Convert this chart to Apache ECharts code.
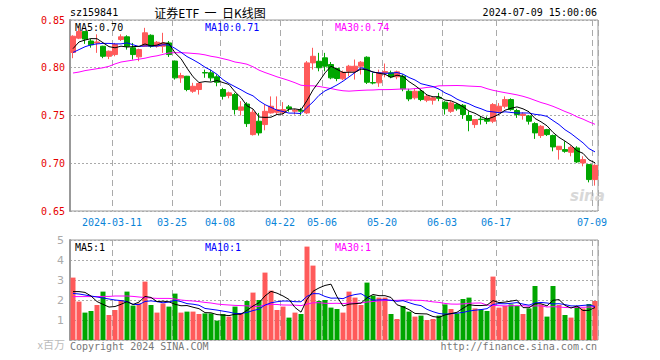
<!DOCTYPE html>
<html><head><meta charset="utf-8">
<script src="https://cdn.jsdelivr.net/npm/echarts@6/dist/echarts.min.js"></script>
<style>html,body{margin:0;padding:0;background:#fff}#c{width:660px;height:360px}</style>
</head><body><div id="c"></div>
<script>
// ---- data ----
const dates = ['02-29','03-01','03-04','03-05','03-06','03-07','03-08','03-11','03-12','03-13','03-14','03-15','03-18','03-19','03-20','03-21','03-22','03-25','03-26','03-27','03-28','03-29','04-01','04-02','04-03','04-08','04-09','04-10','04-11','04-12','04-15','04-16','04-17','04-18','04-19','04-22','04-23','04-24','04-25','04-26','04-29','04-30','05-06','05-07','05-08','05-09','05-10','05-13','05-14','05-15','05-16','05-17','05-20','05-21','05-22','05-23','05-24','05-27','05-28','05-29','05-30','05-31','06-03','06-04','06-05','06-06','06-07','06-11','06-12','06-13','06-14','06-17','06-18','06-19','06-20','06-21','06-24','06-25','06-26','06-27','06-28','07-01','07-02','07-03','07-04','07-05','07-08','07-09'];
const opens  = [.816,.831,.838,.828,.826,.8225,.812,.8138,.8296,.8324,.8209,.8114,.8225,.834,.8225,.8225,.826,.807,.7894,.7911,.7754,.7772,.795,.7947,.7905,.7772,.7709,.7719,.7555,.762,.730,.744,.7405,.7527,.7534,.7534,.759,.7545,.7555,.7527,.8051,.8068,.8104,.8034,.7992,.7884,.7963,.7963,.8016,.811,.7845,.7842,.7945,.7947,.7905,.7911,.7754,.7685,.7754,.766,.766,.769,.7639,.7544,.7614,.7607,.750,.7405,.7462,.7465,.744,.7544,.7597,.7667,.7552,.750,.7495,.7415,.729,.7352,.729,.7143,.7143,.7115,.716,.7003,.6986,.6829];
const closes = [.833,.838,.830,.824,.827,.812,.8173,.8243,.8324,.8225,.8138,.819,.8366,.8225,.8267,.826,.8138,.7894,.7918,.7772,.7806,.7835,.7945,.7894,.7848,.7701,.7737,.7562,.759,.7415,.7534,.7318,.7544,.7597,.7562,.7562,.757,.7555,.7545,.8051,.812,.800,.8016,.7894,.7887,.7953,.8016,.8016,.8058,.7848,.784,.7947,.796,.7905,.7957,.7779,.7674,.7754,.7667,.7701,.7685,.768,.757,.7632,.757,.751,.7447,.7457,.7457,.744,.7614,.7597,.7667,.7562,.751,.7515,.744,.7318,.7387,.730,.7171,.7178,.7125,.7167,.7014,.7038,.6829,.6978];
const lows   = [.810,.830,.825,.821,.8156,.810,.809,.812,.828,.819,.8086,.8068,.822,.821,.821,.8156,.8113,.7876,.7842,.7754,.7737,.7719,.7895,.7859,.7806,.7667,.768,.751,.750,.738,.729,.729,.7345,.752,.751,.751,.754,.751,.750,.7515,.7981,.7963,.7963,.788,.7859,.787,.7911,.7876,.7929,.783,.7826,.780,.790,.789,.788,.7754,.765,.7667,.765,.764,.7614,.765,.751,.7527,.755,.7465,.7335,.737,.7405,.741,.742,.752,.7575,.755,.7475,.7457,.7405,.7255,.7265,.7285,.7125,.7038,.711,.7073,.7003,.6968,.680,.6766];
const highs  = [.834,.8435,.838,.830,.835,.823,.818,.826,.835,.834,.826,.820,.8418,.835,.828,.8366,.828,.8075,.7947,.7915,.7842,.784,.798,.798,.793,.779,.775,.7737,.765,.764,.7562,.7527,.7614,.770,.770,.764,.761,.757,.758,.807,.8209,.8156,.8156,.806,.800,.797,.803,.8086,.807,.812,.7947,.798,.8044,.797,.797,.793,.778,.778,.777,.772,.7695,.7737,.765,.765,.763,.762,.7544,.746,.7492,.749,.763,.763,.770,.768,.757,.7534,.7505,.743,.740,.736,.730,.718,.723,.7185,.7178,.7073,.699,.699];
const volumes = [3.12,1.92,1.37,1.45,1.75,2.42,1.25,1.5,2.0,2.42,1.72,1.83,2.92,1.75,1.37,1.83,1.67,2.32,1.37,1.42,1.42,1.3,1.33,1.33,0.97,1.3,1.17,1.67,1.33,1.95,2.37,2.0,3.37,2.47,1.5,1.67,1.12,1.37,1.3,4.67,3.72,1.95,2.0,1.62,1.55,1.37,2.42,2.12,1.75,2.87,2.22,2.12,2.12,1.3,1.05,1.7,1.42,1.17,1.22,1.0,1.05,1.22,1.78,1.55,1.33,2.05,2.12,1.58,1.53,1.45,3.17,1.62,1.7,1.78,1.7,1.3,1.58,2.7,1.78,1.17,2.7,1.75,1.25,1.12,1.67,1.58,1.8,1.95];
// moving-average values for the days before a full window exists
const priceMa5Head  = [.820,.827,.829,.8305];
const priceMa10Head = [.816,.819,.822,.824,.825,.8255,.8255,.825,.825];
const priceMa30Head = [.7945,.7955,.797,.798,.799,.800,.8015,.804,.806,.807,.808,.809,.810,.8115,.8125,.814,.8155,.8158,.8158,.8155,.815,.8145,.8135,.812,.811,.8095,.808,.806,.805];
const volMa5Head  = [2.42,2.42,2.38,2.2];
const volMa10Head = [2.33,2.3,2.25,2.2,2.15,2.1,2.05,2.0,1.97];
const volMa30Head = [2.17,2.17,2.17,2.17,2.17,2.18,2.18,2.2,2.2,2.2,2.18,2.15,2.12,2.1,2.08,2.08,2.08,2.05,2.0,1.97,1.95,1.92,1.88,1.85,1.8,1.77,1.75,1.73,1.72];
const tickLabels = ['03-11','03-25','04-08','04-22','05-06','05-20','06-03','06-17','07-09'];
const priceTicks = [0.65,0.70,0.75,0.80,0.85];
const volTicks = [0,1,2,3,4,5];
const priceMaLabels = ['MA5:0.70','MA10:0.71','MA30:0.74'];
const volMaLabels = ['MA5:1','MA10:1','MA30:1'];
const titleText = '证券ETF 一 日K线图';
const codeText = 'sz159841';
const timeText = '2024-07-09 15:00:06';

// ---- build ----
function ma(arr, n, head){
  return arr.map((v,i)=>{
    if(i < n-1) return head[i];
    let s=0; for(let k=i-n+1;k<=i;k++) s+=arr[k];
    return +(s/n).toFixed(4);
  });
}
const tickIdx = new Set(tickLabels.map(t=>dates.indexOf(t)));
const firstTick = dates.indexOf(tickLabels[0]);
const RED='#ff5a5a', GREEN='#00a600';
const candle = dates.map((d,i)=>[opens[i],closes[i],lows[i],highs[i]]);
const volData = volumes.map((v,i)=>({value:v,itemStyle:{color: closes[i]>=opens[i]?RED:GREEN}}));
const mono = "'DejaVu Sans Mono', monospace";
const vSplit = {show:true, interval:(i)=>tickIdx.has(i), lineStyle:{color:'#aaa', type:[6,4], width:1}};
const hSplit = {show:true, lineStyle:{color:'#aaa', type:[2,2], width:1}};
const L=70, R=62;

const chart = echarts.init(document.getElementById('c'), null, {renderer:'svg'});
const lineS = (name, data, color, xi)=>({type:'line', name, data, xAxisIndex:xi, yAxisIndex:xi, symbol:'none', smooth:false, silent:true, z:5,
  lineStyle:{color, width:1}, itemStyle:{color}});
chart.setOption({
  animation:false,
  grid:[
    {left:L, right:R, top:20, height:191, show:true, borderColor:'#999', borderWidth:1},
    {left:L, right:R, top:240, height:100, show:true, borderColor:'#999', borderWidth:1}
  ],
  xAxis:[
    {type:'category', gridIndex:0, data:dates, boundaryGap:true, axisLine:{show:false}, axisTick:{show:false},
     axisLabel:{interval:(i)=>tickIdx.has(i), formatter:(v,i)=> i===firstTick ? '2024-'+v : v,
       color:'#0a84d8', fontFamily:mono, fontSize:10, margin:6, padding:[0,6,0,0]},
     splitLine:vSplit},
    {type:'category', gridIndex:1, data:dates, boundaryGap:true, axisLine:{show:false}, axisTick:{show:false},
     axisLabel:{show:false}, splitLine:vSplit}
  ],
  yAxis:[
    {type:'value', gridIndex:0, min:priceTicks[0], max:priceTicks[priceTicks.length-1], interval:0.05,
     axisLine:{show:true, lineStyle:{color:'#999', width:2}}, axisTick:{show:false},
     axisLabel:{formatter:(v)=>v.toFixed(2), color:'#e60000', fontFamily:mono, fontSize:10, margin:5},
     splitLine:hSplit},
    {type:'value', gridIndex:1, min:volTicks[0], max:volTicks[volTicks.length-1], interval:1,
     axisLine:{show:true, lineStyle:{color:'#999', width:2}}, axisTick:{show:false},
     axisLabel:{formatter:(v)=> v===0?'':String(v), color:'#aaa', fontFamily:'DejaVu Sans', fontSize:11, margin:6},
     splitLine:hSplit}
  ],
  series:[
    {type:'candlestick', data:candle, xAxisIndex:0, yAxisIndex:0, barWidth:5, silent:true,
     itemStyle:{color:RED, color0:GREEN, borderColor:RED, borderColor0:GREEN, borderWidth:1}},
    lineS('MA30', ma(closes,30,priceMa30Head), '#ff00ff', 0),
    lineS('MA10', ma(closes,10,priceMa10Head), '#0000ff', 0),
    lineS('MA5',  ma(closes,5,priceMa5Head),  '#000000', 0),
    {type:'bar', data:volData, xAxisIndex:1, yAxisIndex:1, barWidth:5, silent:true},
    lineS('VMA30', ma(volumes,30,volMa30Head), '#ff00ff', 1),
    lineS('VMA10', ma(volumes,10,volMa10Head), '#0000ff', 1),
    lineS('VMA5',  ma(volumes,5,volMa5Head),  '#000000', 1)
  ],
  graphic:[
    {type:'text', x:70, y:12, style:{text:codeText, fill:'#000', font:'10px '+mono, textVerticalAlign:'middle'}},
    {type:'text', x:210, y:12, style:{text:titleText.replace(/ /g,'  '), fill:'#000', font:"12px 'Noto Sans CJK SC'", textAlign:'center', textVerticalAlign:'middle'}},
    {type:'text', x:597, y:12, style:{text:timeText, fill:'#000', font:'10px '+mono, textAlign:'right', textVerticalAlign:'middle'}},
    {type:'text', x:75, y:27, z:10, style:{text:priceMaLabels[0], fill:'#000', font:'10px '+mono, textVerticalAlign:'middle'}},
    {type:'text', x:205, y:27, z:10, style:{text:priceMaLabels[1], fill:'#0000ff', font:'10px '+mono, textVerticalAlign:'middle'}},
    {type:'text', x:335, y:27, z:10, style:{text:priceMaLabels[2], fill:'#ff00ff', font:'10px '+mono, textVerticalAlign:'middle'}},
    {type:'text', x:75, y:247, z:10, style:{text:volMaLabels[0], fill:'#000', font:'10px '+mono, textVerticalAlign:'middle'}},
    {type:'text', x:205, y:247, z:10, style:{text:volMaLabels[1], fill:'#0000ff', font:'10px '+mono, textVerticalAlign:'middle'}},
    {type:'text', x:335, y:247, z:10, style:{text:volMaLabels[2], fill:'#ff00ff', font:'10px '+mono, textVerticalAlign:'middle'}},
    {type:'text', x:70, y:346, style:{text:'Copyright 2024 SINA.COM', fill:'#777', font:'10px '+mono, textVerticalAlign:'middle'}},
    {type:'text', x:597, y:346, style:{text:'http://finance.sina.com.cn', fill:'#777', font:'10px '+mono, textAlign:'right', textVerticalAlign:'middle'}},
    {type:'text', x:65, y:344, style:{text:'x百万', fill:'#bbb', font:"11px 'Noto Sans CJK SC'", textAlign:'right', textVerticalAlign:'middle'}},
    {type:'text', x:570, y:196, z:0, style:{text:'sina', fill:'#d8d8d8', font:"italic bold 15px 'DejaVu Sans'", textVerticalAlign:'middle'}}
  ]
});
</script></body></html>
